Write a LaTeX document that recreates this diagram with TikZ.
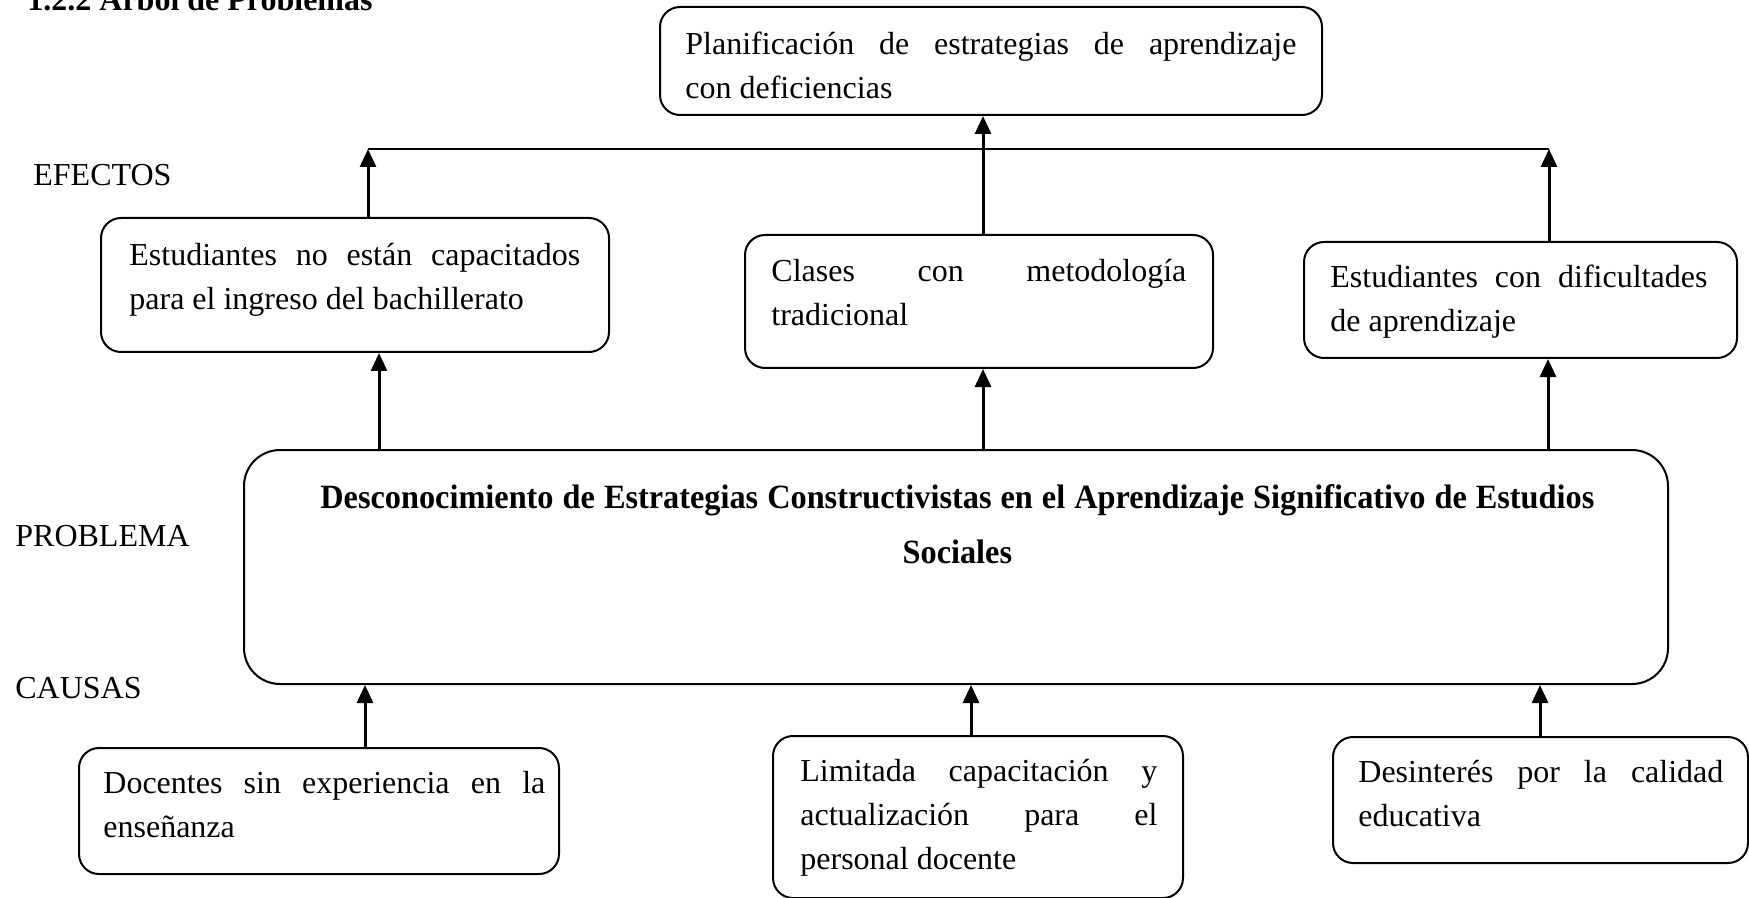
\documentclass[tikz,border=0pt]{standalone}
\usepackage{fontspec}
\setmainfont{Liberation Serif}
\usetikzlibrary{arrows.meta}
\tikzset{
  box/.style={draw, line width=1pt, rounded corners=10pt, inner sep=0pt, anchor=north west},
  txt/.style={inner sep=0pt, anchor=base west, font=\fontsize{16}{22}\selectfont},
  lab/.style={inner sep=0pt, anchor=base west, font=\fontsize{16}{22}\selectfont},
  arr/.style={line width=1.5pt, -{Triangle[width=8pt,length=9pt]}},
}
\newcommand{\jl}[2]{\makebox[#1][s]{#2}}
\begin{document}
\begin{tikzpicture}[x=0.5pt,y=-0.5pt]
\useasboundingbox (0,0) rectangle (1749,898);
% title (cut at top)
\node[lab, font=\fontsize{16}{22}\selectfont\bfseries] (title) at (27,11) {1.2.2 Árbol de Problemas};
% boxes
\node[box, minimum width=331pt, minimum height=54pt] (top) at (659,6) {};
\node[box, minimum width=254pt, minimum height=67pt] (eff1) at (100,217) {};
\node[box, minimum width=234pt, minimum height=66.5pt] (eff2) at (744,234) {};
\node[box, minimum width=216.5pt, minimum height=58pt] (eff3) at (1303,241) {};
\node[box, rounded corners=18pt, minimum width=712pt, minimum height=117pt] (prob) at (243,449) {};
\node[box, minimum width=240pt, minimum height=63pt] (cau1) at (78,747) {};
\node[box, minimum width=205pt, minimum height=81pt] (cau2) at (772,735) {};
\node[box, minimum width=207.5pt, minimum height=63pt] (cau3) at (1332,736) {};
% texts
\node[txt] (ttop) at (685,55) {\parbox[t]{305.5pt}{\jl{305.5pt}{Planificación de estrategias de aprendizaje}\\con deficiencias}};
\node[txt] (teff1) at (129,266) {\parbox[t]{225.5pt}{\jl{225.5pt}{Estudiantes no están capacitados}\\para el ingreso del bachillerato}};
\node[txt] (teff2) at (771,282) {\parbox[t]{207.5pt}{\jl{207.5pt}{Clases con metodología}\\tradicional}};
\node[txt] (teff3) at (1330,288) {\parbox[t]{188.5pt}{\jl{188.5pt}{Estudiantes con dificultades}\\de aprendizaje}};
\node[txt, font=\fontsize{17}{27.5}\selectfont\bfseries] (tprob) at (320,508) {\scalebox{0.95}[1]{\parbox[t]{670.5pt}{\jl{670.5pt}{Desconocimiento de Estrategias Constructivistas en el Aprendizaje Significativo de Estudios}\\\makebox[670.5pt][c]{Sociales}}}};
\node[txt] (tcau1) at (103,793) {\parbox[t]{221pt}{\jl{221pt}{Docentes sin experiencia en la}\\enseñanza}};
\node[txt] (tcau2) at (800,781) {\parbox[t]{178.5pt}{\jl{178.5pt}{Limitada capacitación y}\\\jl{178.5pt}{actualización para el}\\personal docente}};
\node[txt] (tcau3) at (1358,782) {\parbox[t]{182.5pt}{\jl{182.5pt}{Desinterés por la calidad}\\educativa}};
% side labels
\node[lab] (efectos) at (33,186) {EFECTOS};
\node[lab] (problema) at (15,546) {PROBLEMA};
\node[lab] (causas) at (15,698) {CAUSAS};
% column coordinates
\coordinate (hl) at (368,149);
\coordinate (hr) at (1549,149);
\coordinate (xA) at (379,0);
\coordinate (xB) at (983,0);
\coordinate (xC) at (1548,0);
\coordinate (xD) at (365,0);
\coordinate (xE) at (971,0);
\coordinate (xF) at (1540,0);
% connectors
\draw[line width=0.8pt] (hl) -- (hr);
\draw[arr] (eff1.north -| hl) -- (hl);
\draw[arr] (eff3.north -| hr) -- (hr);
\draw[arr] (eff2.north -| xB) -- (top.south -| xB);
\draw[arr] (prob.north -| xA) -- (eff1.south -| xA);
\draw[arr] (prob.north -| xB) -- (eff2.south -| xB);
\draw[arr] (prob.north -| xC) -- (eff3.south -| xC);
\draw[arr] (cau1.north -| xD) -- (prob.south -| xD);
\draw[arr] (cau2.north -| xE) -- (prob.south -| xE);
\draw[arr] (cau3.north -| xF) -- (prob.south -| xF);
\end{tikzpicture}
\end{document}
